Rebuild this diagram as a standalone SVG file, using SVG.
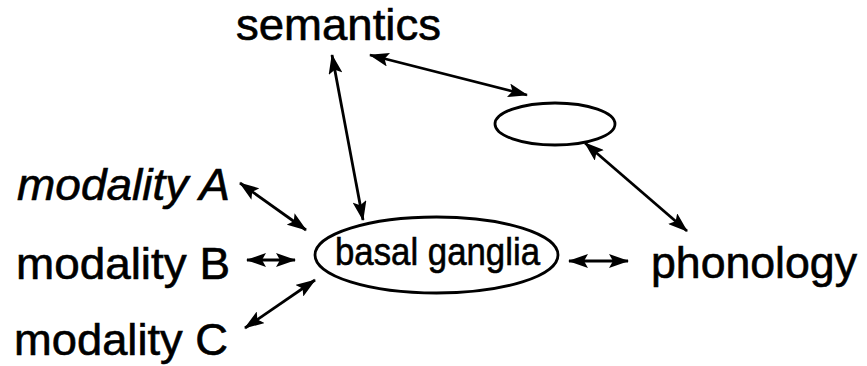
<svg xmlns="http://www.w3.org/2000/svg" width="867" height="366" viewBox="0 0 867 366">
<style>
text{font-family:"Liberation Sans",Arial,sans-serif;fill:#000;stroke:#000;stroke-width:0.6}
.lbl{font-size:44px}
.it{font-style:italic}
.node{fill:none;stroke:#000;stroke-width:2.8}
.conn line{stroke:#000;stroke-width:2.8;marker-start:url(#ah);marker-end:url(#ah)}
</style>
<defs>
<marker id="ah" viewBox="0 0 20 14" refX="19" refY="7" markerWidth="20" markerHeight="14" markerUnits="userSpaceOnUse" orient="auto-start-reverse">
<path d="M0,0 L20,7 L0,14 L4,7 Z" fill="#000"/>
</marker>
</defs>
<rect width="867" height="366" fill="#fff"/>
<g id="semantics"><text class="lbl" x="236" y="40" textLength="205" lengthAdjust="spacingAndGlyphs">semantics</text></g>
<g id="modalityA"><text class="lbl it" x="17" y="200" textLength="213" lengthAdjust="spacingAndGlyphs">modality A</text></g>
<g id="modalityB"><text class="lbl" x="16" y="279" textLength="214" lengthAdjust="spacingAndGlyphs">modality B</text></g>
<g id="modalityC"><text class="lbl" x="14" y="355" textLength="214" lengthAdjust="spacingAndGlyphs">modality C</text></g>
<g id="phonology"><text class="lbl" x="651" y="278" textLength="206" lengthAdjust="spacingAndGlyphs">phonology</text></g>
<g id="basalganglia"><ellipse class="node" cx="436.5" cy="255" rx="121.5" ry="38"/><text x="335" y="265" font-size="38" textLength="205" lengthAdjust="spacingAndGlyphs">basal ganglia</text></g>
<g id="hidden"><ellipse class="node" cx="555" cy="124" rx="60" ry="21"/></g>
<g class="conn" id="connectors">
<line x1="370" y1="55" x2="527" y2="95"/>
<line x1="332" y1="55" x2="363" y2="220"/>
<line x1="585" y1="143" x2="687" y2="231"/>
<line x1="569" y1="261" x2="628" y2="261"/>
<line x1="240" y1="183" x2="306" y2="230"/>
<line x1="247" y1="260" x2="295" y2="260"/>
<line x1="245" y1="328" x2="315" y2="280"/>
</g>
</svg>
